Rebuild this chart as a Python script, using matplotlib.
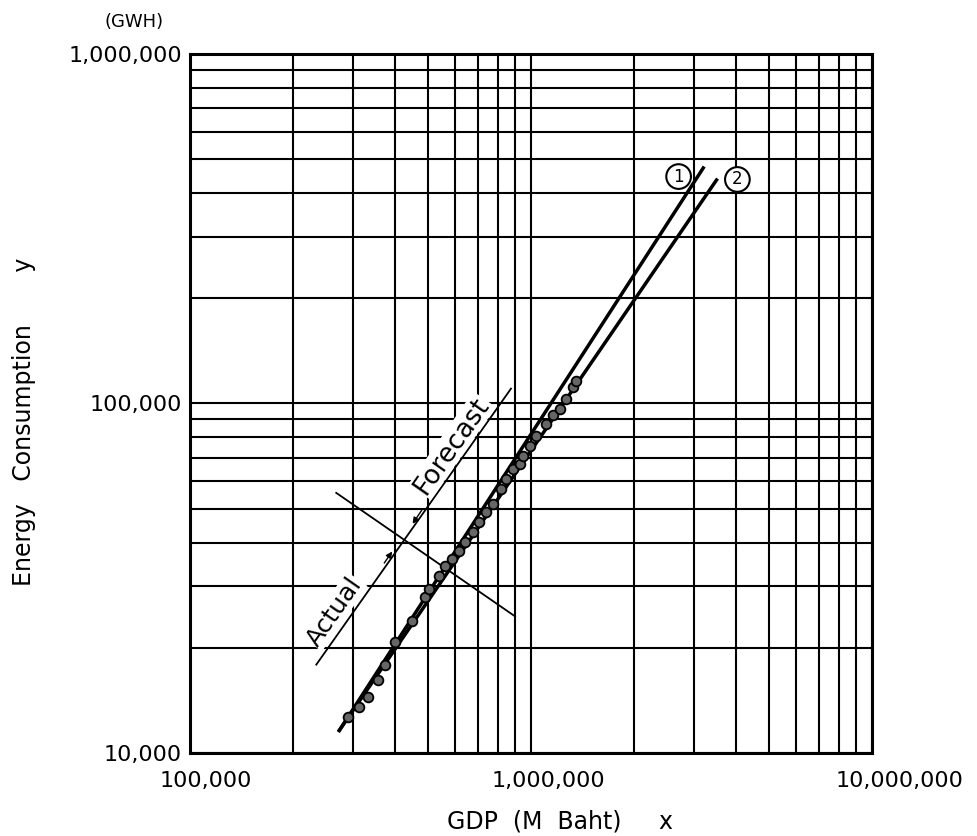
import matplotlib
matplotlib.use("Agg")
import matplotlib.pyplot as plt
import matplotlib.transforms as mtransforms
from matplotlib.ticker import FixedLocator, FixedFormatter, LogLocator, NullFormatter

# Recorded and forecast points (GDP in million Baht, energy in GWh)
gdp = [291000, 314000, 332000, 357000, 372000, 399000, 448000, 489000,
       503000, 538000, 560000, 587000, 617000, 642000, 674000, 706000,
       736000, 772000, 815000, 843000, 885000, 928000, 947000, 993000,
       1034000, 1106000, 1159000, 1214000, 1264000, 1324000, 1352000]
energy = [12700, 13550, 14500, 16200, 17900, 20800, 23800, 27900,
          29400, 32000, 34200, 35900, 37800, 40100, 42900, 45800,
          49000, 51600, 57000, 60900, 65000, 67200, 70900, 75700,
          80900, 87600, 92400, 96700, 103300, 111800, 116300]

# Fitted trend lines (1) and (2), end points
line1_gdp = [274000, 3200000]
line1_energy = [11600, 472000]
line2_gdp = [274000, 3500000]
line2_energy = [11600, 436000]

# Actual / Forecast marker
split_gdp = [234600, 873700]
split_energy = [17900, 110300]
divider_gdp = [268400, 898000]
divider_energy = [55500, 24600]

x_ticks = [1e5, 1e6, 1e7]
x_labels = ["100,000", "1,000,000", "10,000,000"]
y_ticks = [1e4, 1e5, 1e6]
y_labels = ["10,000", "100,000", "1,000,000"]

fig = plt.figure(figsize=(9.77, 8.36), dpi=100)
ax = fig.add_axes([0.1945, 0.0993, 0.698, 0.8361])

ax.set_xscale("log")
ax.set_yscale("log")
ax.set_xlim(1e5, 1e7)
ax.set_ylim(1e4, 1e6)

ax.xaxis.set_major_locator(FixedLocator(x_ticks))
ax.xaxis.set_major_formatter(FixedFormatter(x_labels))
ax.yaxis.set_major_locator(FixedLocator(y_ticks))
ax.yaxis.set_major_formatter(FixedFormatter(y_labels))
for axis in (ax.xaxis, ax.yaxis):
    axis.set_minor_locator(LogLocator(base=10, subs=range(2, 10)))
    axis.set_minor_formatter(NullFormatter())

ax.grid(True, which="both", color="black", lw=1.5)
ax.tick_params(which="both", length=0)
ax.tick_params(axis="x", pad=13, labelsize=16)
ax.tick_params(axis="y", pad=6, labelsize=16)
for s in ax.spines.values():
    s.set_linewidth(2.2)
    s.set_color("black")

# shift the x labels a little to the right, like the hand lettering
shifts = [16, 17, 28]
for lab, dx in zip(ax.get_xticklabels(), shifts):
    lab.set_transform(lab.get_transform() +
                      mtransforms.ScaledTranslation(dx / 100, 0, fig.dpi_scale_trans))

# trend lines and points
ax.plot(line1_gdp, line1_energy, color="black", lw=2.5, zorder=4)
ax.plot(line2_gdp, line2_energy, color="black", lw=2.5, zorder=4)
ax.plot(gdp, energy, "o", ms=7, mfc="0.4", mec="black", mew=1.3, zorder=5)

# Actual / Forecast split
ax.plot(split_gdp, split_energy, color="black", lw=1.3, zorder=3)
ax.plot(divider_gdp, divider_energy, color="black", lw=1.3, zorder=3)
ax.annotate("", xy=(444900, 44580), xytext=(485300, 50600),
            arrowprops=dict(arrowstyle="-|>", color="black", lw=1, mutation_scale=9),
            zorder=3)
ax.annotate("", xy=(395900, 38280), xytext=(367300, 34440),
            arrowprops=dict(arrowstyle="-|>", color="black", lw=1, mutation_scale=9),
            zorder=3)
ax.text(265000, 25400, "Actual", rotation=55, fontsize=18, ha="center", va="center",
        rotation_mode="anchor", zorder=3,
        bbox=dict(fc="white", ec="none", pad=0.5))
ax.text(587000, 75700, "Forecast", rotation=55, fontsize=19, ha="center", va="center",
        rotation_mode="anchor", zorder=3,
        bbox=dict(fc="white", ec="none", pad=0.5))

# circled line numbers
ax.text(2.71e6, 4.46e5, "1", fontsize=12, ha="center", va="center", zorder=6,
        bbox=dict(boxstyle="circle,pad=0.2", fc="white", ec="black", lw=1.5))
ax.text(4.03e6, 4.376e5, "2", fontsize=12, ha="center", va="center", zorder=6,
        bbox=dict(boxstyle="circle,pad=0.2", fc="white", ec="black", lw=1.5))

# axis titles
fig.text(134 / 977, 1 - 22 / 836, "(GWH)", fontsize=13, ha="center", va="center")
fig.text(560 / 977, 1 - 822 / 836, "GDP  (M  Baht)     x", fontsize=17,
         ha="center", va="center")
fig.text(24 / 977, 1 - 422 / 836, "Energy   Consumption       y", fontsize=17,
         rotation=90, ha="center", va="center")

fig.savefig("out.png", dpi=100, facecolor="white")
